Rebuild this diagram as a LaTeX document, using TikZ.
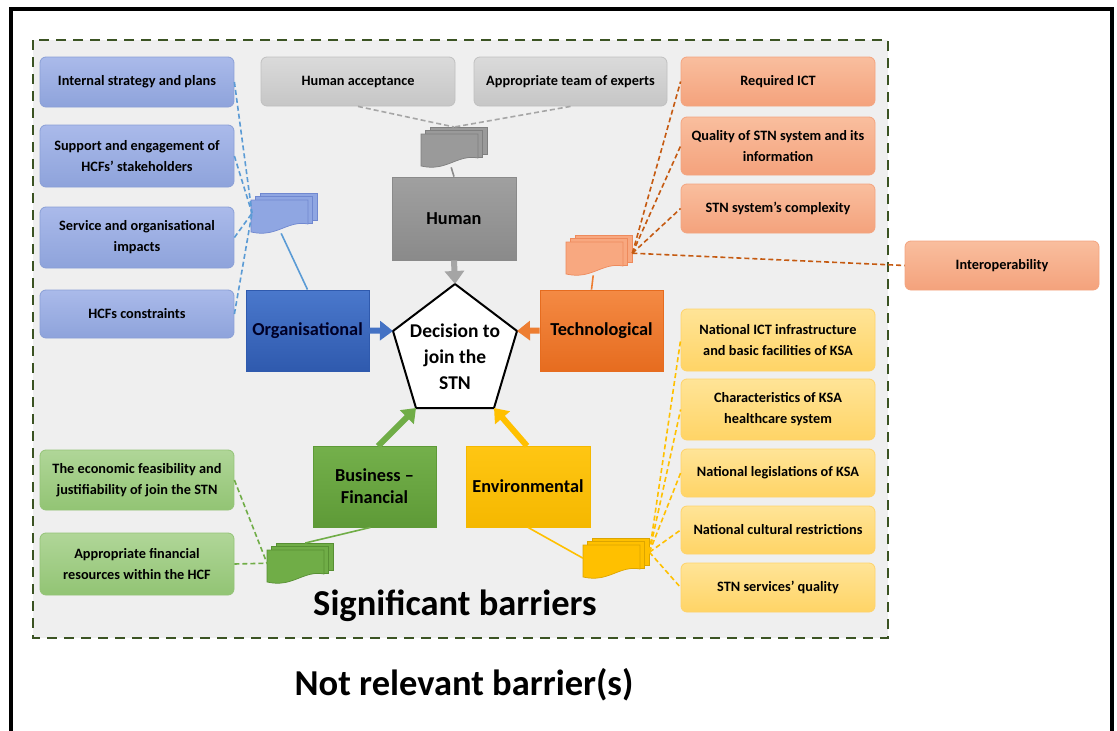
\documentclass[tikz,border=0pt]{standalone}
\usepackage{fontspec}
\setmainfont{Carlito}
\usetikzlibrary{arrows.meta,calc}
\definecolor{frameg}{HTML}{3B5323}
\definecolor{bgg}{HTML}{EFEFEF}
\definecolor{bluetop}{HTML}{AABAEA}
\definecolor{bluebot}{HTML}{8EA3DB}
\definecolor{blued}{HTML}{8A9FD6}
\definecolor{graytop}{HTML}{DADADA}
\definecolor{graybot}{HTML}{C6C6C6}
\definecolor{grayd}{HTML}{C0C0C0}
\definecolor{oratop}{HTML}{F9BE9E}
\definecolor{orabot}{HTML}{F4A27C}
\definecolor{orad}{HTML}{F3A47F}
\definecolor{yeltop}{HTML}{FFE497}
\definecolor{yelbot}{HTML}{FFD466}
\definecolor{yeld}{HTML}{FFD36A}
\definecolor{grntop}{HTML}{B0D698}
\definecolor{grnbot}{HTML}{92C474}
\definecolor{grnd}{HTML}{94C477}
\definecolor{catgray}{HTML}{A0A0A0}
\definecolor{catgray2}{HTML}{8A8A8A}
\definecolor{catblue}{HTML}{4A78CC}
\definecolor{catblue2}{HTML}{2F5AAE}
\definecolor{catora}{HTML}{F48A44}
\definecolor{catora2}{HTML}{E66C1F}
\definecolor{catgrn}{HTML}{74B04B}
\definecolor{catgrn2}{HTML}{5E9A37}
\definecolor{catyel}{HTML}{FFC613}
\definecolor{catyel2}{HTML}{F5B800}
\definecolor{lnblue}{HTML}{5B9BD5}
\definecolor{lngray}{HTML}{A6A6A6}
\definecolor{lnora}{HTML}{C55A11}
\definecolor{lngrn}{HTML}{70AD47}
\definecolor{lnyel}{HTML}{FFC000}
\definecolor{arrgray}{HTML}{A5A5A5}
\definecolor{arrblue}{HTML}{4472C4}
\definecolor{arrora}{HTML}{ED7D31}
\definecolor{arrgrn}{HTML}{70AD47}
\definecolor{arryel}{HTML}{FFC000}
\definecolor{docblue}{HTML}{8FA6E2}
\definecolor{docblued}{HTML}{7088D0}
\definecolor{docgray}{HTML}{9A9A9A}
\definecolor{docgrayd}{HTML}{7F7F7F}
\definecolor{docora}{HTML}{F8A880}
\definecolor{docorad}{HTML}{EE8A5C}
\definecolor{docgrn}{HTML}{70AD47}
\definecolor{docgrnd}{HTML}{578F33}
\definecolor{docyel}{HTML}{FFC000}
\definecolor{docyeld}{HTML}{DCA500}

\newcommand\mdoc[4]{%
  \node[inner sep=0pt, minimum width=66pt, minimum height=40pt, anchor=north west] (#1) at #2 {};
  \begin{scope}[shift={(#1.north west)}, fill=#3, draw=#4, line width=0.7pt]
    \filldraw (9,0) rectangle (66,27);
    \filldraw (4.5,3.5) rectangle (61.5,30.5);
    \filldraw (0,7) -- (57,7) -- (57,31) .. controls (36,27) and (26,45) .. (0,39) -- cycle;
  \end{scope}}

\begin{document}
\begin{tikzpicture}[x=1pt,y=-1pt,
  lbox/.style={rounded corners=6pt, minimum width=194pt, align=center,
     font=\bfseries\fontsize{14.3}{21}\selectfont, inner sep=0pt, line width=0.8pt},
  bluebox/.style={lbox, top color=bluetop, bottom color=bluebot, draw=blued},
  graybox/.style={lbox, top color=graytop, bottom color=graybot, draw=grayd},
  orabox/.style={lbox, top color=oratop, bottom color=orabot, draw=orad},
  yelbox/.style={lbox, top color=yeltop, bottom color=yelbot, draw=yeld},
  grnbox/.style={lbox, top color=grntop, bottom color=grnbot, draw=grnd},
  cat/.style={minimum width=123pt, minimum height=81pt, align=center, inner sep=0pt,
     font=\bfseries\fontsize{18.3}{22}\selectfont, line width=0.8pt},
  bigarr/.style={-{Triangle[length=13pt,width=19pt]}, line width=6pt},
  dconn/.style={dash pattern=on 5pt off 3pt, line width=1.6pt},
  sconn/.style={line width=1.6pt}
]
\useasboundingbox (0,0) rectangle (1117,731);
\draw[line width=4pt] (11,740) -- (11,9) -- (1112,9) -- (1112,740);
\draw[dash pattern=on 10pt off 7pt, line width=2.5pt, draw=frameg, fill=bgg] (33,40) rectangle (888,638);

% leaf boxes
\node[bluebox, minimum height=50pt] (o1) at (137,82) {Internal strategy and plans};
\node[bluebox, minimum height=62pt] (o2) at (137,156) {Support and engagement of\\HCFs’ stakeholders};
\node[bluebox, minimum height=61pt] (o3) at (137,237.5) {Service and organisational\\impacts};
\node[bluebox, minimum height=48pt] (o4) at (137,314) {HCFs constraints};

\node[graybox, minimum height=49pt] (h1) at (358,81.5) {Human acceptance};
\node[graybox, minimum height=49pt, minimum width=193pt] (h2) at (570.5,81.5) {Appropriate team of experts};

\node[orabox, minimum height=49pt] (t1) at (778,81.5) {Required ICT};
\node[orabox, minimum height=58pt] (t2) at (778,146) {Quality of STN system and its\\information};
\node[orabox, minimum height=49pt] (t3) at (778,208.5) {STN system’s complexity};
\node[orabox, minimum height=49pt] (t4) at (1002,265.5) {Interoperability};

\node[yelbox, minimum height=62pt] (e1) at (778,340) {National ICT infrastructure\\and basic facilities of KSA};
\node[yelbox, minimum height=61pt] (e2) at (778,409.5) {Characteristics of KSA\\healthcare system};
\node[yelbox, minimum height=48pt] (e3) at (778,473) {National legislations of KSA};
\node[yelbox, minimum height=48pt] (e4) at (778,530) {National cultural restrictions};
\node[yelbox, minimum height=49pt] (e5) at (778,587.5) {STN services’ quality};

\node[grnbox, minimum height=60pt] (f1) at (137,480) {The economic feasibility and\\justifiability of join the STN};
\node[grnbox, minimum height=62pt] (f2) at (137,564) {Appropriate financial\\resources within the HCF};

% category boxes
\node[cat, minimum width=124pt, minimum height=83pt, top color=catgray, bottom color=catgray2, draw=catgray2] (hum) at (454,218.5) {Human};
\node[cat, top color=catblue, bottom color=catblue2, draw=catblue2, text=black!85!blue] (org) at (307.5,330.5) {Organisational};
\node[cat, top color=catora, bottom color=catora2, draw=catora2] (tech) at (601.5,330.5) {Technological};
\node[cat, top color=catgrn, bottom color=catgrn2, draw=catgrn2] (bus) at (374.5,486.5) {Business –\\Financial};
\node[cat, minimum width=124pt, top color=catyel, bottom color=catyel2, draw=catyel2] (env) at (528,486.5) {Environmental};

% pentagon
\coordinate (p1) at (455,284);
\coordinate (p2) at (517,331);
\coordinate (p3) at (494,408);
\coordinate (p4) at (416,408);
\coordinate (p5) at (393,331);
\draw[fill=white, line width=2pt, line join=miter] (p1) -- (p2) -- (p3) -- (p4) -- (p5) -- cycle;
\node[align=center, font=\bfseries\fontsize{19.5}{26}\selectfont, inner sep=0pt] (dec) at (455,357) {Decision to\\join the\\STN};

% big arrows
\draw[bigarr, arrgray] (hum.south) -- (p1);
\draw[bigarr, arrblue] (org.east) -- (p5);
\draw[bigarr, arrora] (tech.west) -- (p2);
\coordinate (bstart) at (378,446);
\coordinate (estart) at (527,446);
\draw[bigarr, arrgrn] (bstart) -- (p4);
\draw[bigarr, arryel] (estart) -- (p3);

% document icons
\mdoc{bdoc}{(251,193)}{docblue}{docblued}
\mdoc{gdoc}{(421,127)}{docgray}{docgrayd}
\mdoc{odoc}{(566,235)}{docora}{docorad}
\mdoc{fdoc}{(267,543)}{docgrn}{docgrnd}
\mdoc{edoc}{(583,538)}{docyel}{docyeld}

% connectors: organisational
\coordinate (bc) at ($(bdoc.west)+(1,0)$);
\foreach \n in {o1,o2,o3,o4} \draw[dconn, lnblue] (\n.east) -- (bc);
\draw[sconn, lnblue] ($(bdoc.south)+(-3,0)$) -- (org.north);

% human
\foreach \n in {h1,h2} \draw[dconn, lngray] (\n.south) -- (gdoc.north);
\draw[sconn, catgray2] ($(gdoc.south)+(-3,0)$) -- (hum.north);

% technological
\coordinate (oc) at ($(odoc.east)+(0,-2)$);
\foreach \n in {t1,t2,t3,t4} \draw[dconn, lnora] (oc) -- (\n.west);
\draw[sconn, arrora] ($(odoc.south)+(-6,0)$) -- ($(tech.north)+(-10,0)$);

% financial
\foreach \n in {f1,f2} \draw[dconn, lngrn] (\n.east) -- (fdoc.west);
\draw[sconn, lngrn] ($(fdoc.north)+(5,0)$) -- ($(bus.south)+(-4,0)$);

% environmental
\coordinate (ec) at ($(edoc.east)+(0,-6)$);
\foreach \n in {e1,e2,e3,e4,e5} \draw[dconn, lnyel] (ec) -- (\n.west);
\draw[sconn, lnyel] (env.south) -- (edoc.west);

% titles
\node[font=\bfseries\fontsize{36.5}{40}\selectfont, inner sep=0pt] (sig) at (455,606) {Significant barriers};
\node[font=\bfseries\fontsize{36.5}{40}\selectfont, inner sep=0pt] (notrel) at (464,685) {Not relevant barrier(s)};
\end{tikzpicture}
\end{document}
